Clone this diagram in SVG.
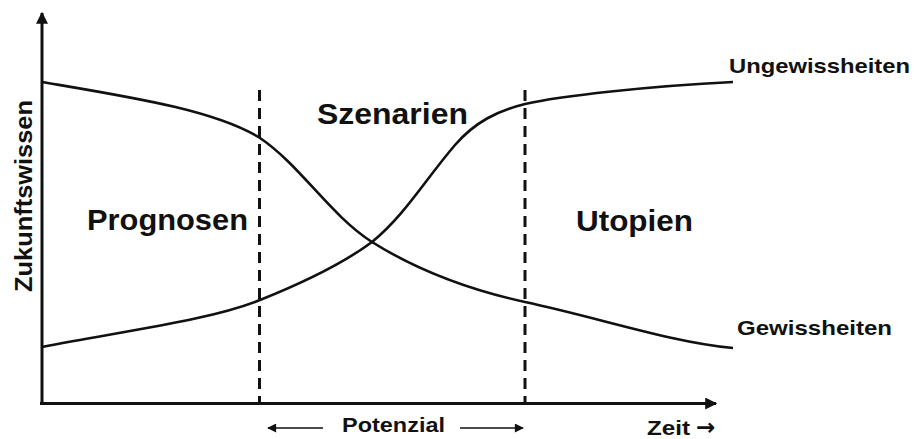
<svg xmlns="http://www.w3.org/2000/svg" width="914" height="439" viewBox="0 0 914 439">
<defs>
<style>
text{font-family:"Liberation Sans",Arial,sans-serif;font-weight:bold;fill:#111}
.big{font-size:30px}
.mid{font-size:21px}
.curve{fill:none;stroke:#111;stroke-width:2.6}
.axis{fill:none;stroke:#111;stroke-width:3}
.dash{fill:none;stroke:#111;stroke-width:3;stroke-dasharray:11 7}
.thin{fill:none;stroke:#111;stroke-width:1.5}
</style>
<marker id="ah" viewBox="0 0 10 10" refX="9" refY="5" markerWidth="5" markerHeight="4" markerUnits="strokeWidth" orient="auto">
<path d="M0,0 L10,5 L0,10 z" fill="#111"/>
</marker>
<marker id="sh" viewBox="0 0 10 10" refX="9" refY="5" markerWidth="8" markerHeight="6" markerUnits="strokeWidth" orient="auto">
<path d="M0,0 L10,5 L0,10 z" fill="#111"/>
</marker>
</defs>
<rect width="914" height="439" fill="#fff"/>
<g id="connectors">
<path class="axis" d="M42,405 V13" marker-end="url(#ah)"/>
<path class="axis" d="M40,403.5 H716" marker-end="url(#ah)"/>
<path class="dash" d="M259.5,90 V403"/>
<path class="dash" d="M525,90 V403"/>
<path class="curve" d="M42,82 C130,97 215,110 260,138 C300,165 330,215 372,242 C420,272 470,290 525,302 C600,318 670,342 733,348"/>
<path class="curve" d="M42,347 C130,330 210,320 260,300 C310,280 345,262 372,242 C405,215 425,180 455,145 C475,122 497,111 525,104 C560,96 650,86 733,82"/>
<path class="thin" d="M323,428 H268" marker-end="url(#sh)"/>
<path class="thin" d="M460,428 H523" marker-end="url(#sh)"/>
</g>
<g id="prognosen"><text class="big" x="87" y="230" textLength="161" lengthAdjust="spacingAndGlyphs">Prognosen</text></g>
<g id="szenarien"><text class="big" x="317" y="124" textLength="151" lengthAdjust="spacingAndGlyphs">Szenarien</text></g>
<g id="utopien"><text class="big" x="576" y="231" textLength="117" lengthAdjust="spacingAndGlyphs">Utopien</text></g>
<g id="ungewissheiten"><text class="mid" x="729" y="73" textLength="181" lengthAdjust="spacingAndGlyphs">Ungewissheiten</text></g>
<g id="gewissheiten"><text class="mid" x="737" y="335" textLength="155" lengthAdjust="spacingAndGlyphs">Gewissheiten</text></g>
<g id="potenzial"><text class="mid" x="342" y="432" textLength="103" lengthAdjust="spacingAndGlyphs">Potenzial</text></g>
<g id="zeit"><text class="mid" x="647" y="435" textLength="43" lengthAdjust="spacingAndGlyphs">Zeit</text><text x="696" y="435" style="font-family:'DejaVu Sans',sans-serif;font-size:23px">→</text></g>
<g id="zukunftswissen"><text class="mid" transform="translate(32,292) rotate(-90)" x="0" y="0" style="font-size:24px" textLength="192" lengthAdjust="spacingAndGlyphs">Zukunftswissen</text></g>
</svg>
